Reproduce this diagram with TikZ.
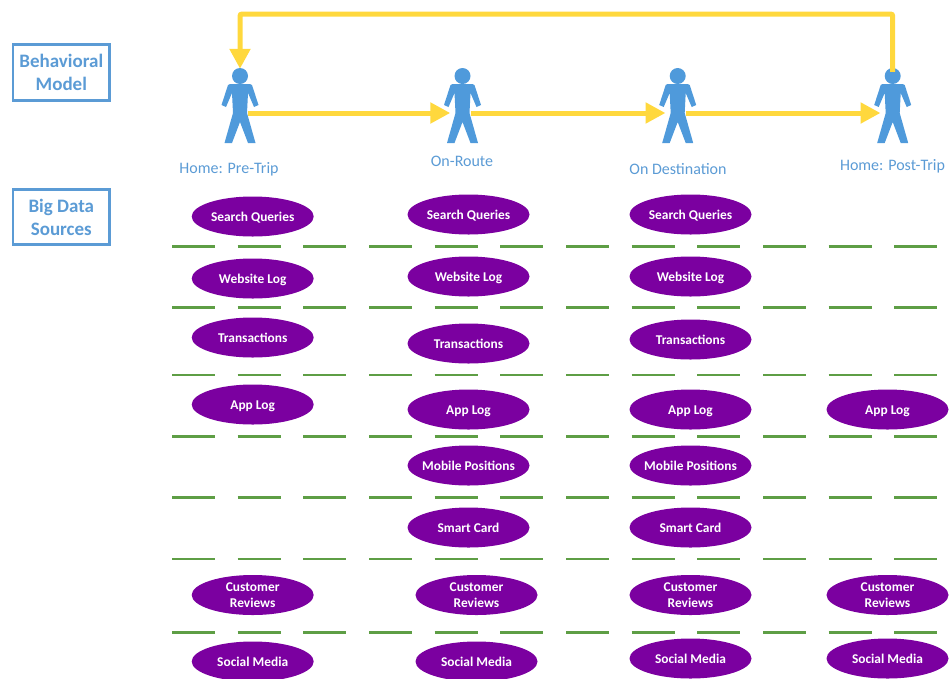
\documentclass[tikz,border=0pt]{standalone}
\usepackage{fontspec}
\setmainfont{Carlito}
\usetikzlibrary{shapes.geometric,arrows.meta}
\pgfdeclarelayer{bg}
\pgfsetlayers{bg,main}
\definecolor{boxblue}{HTML}{5B9BD5}
\definecolor{figblue}{HTML}{4F9ADB}
\definecolor{flowyellow}{HTML}{FFD83D}
\definecolor{srcpurple}{HTML}{7B00A0}
\definecolor{sepgreen}{HTML}{5E9E45}
\newcommand{\longsrc}[1]{\makebox[60pt]{#1}}
\tikzset{
	stagefig/.style={minimum width=24pt, minimum height=74pt, inner sep=0pt},
	stagelabel/.style={text=boxblue, font=\fontsize{16}{19}\selectfont, inner sep=0pt},
	headbox/.style={draw=boxblue, line width=2.7pt, text=boxblue, minimum width=96.5pt, minimum height=55.5pt,
		inner sep=0pt, align=center, font=\fontsize{19}{23}\selectfont\bfseries},
	src/.style={ellipse, fill=srcpurple, text=white, minimum width=122pt, minimum height=40pt, inner sep=0pt,
		align=center, font=\fontsize{13.4}{15.5}\selectfont\bfseries},
	srcone/.style={src, text height=11pt, text depth=2pt},
	flow/.style={draw=flowyellow, line width=5pt, rounded corners=2pt, -{Triangle[length=20pt,width=20pt]}},
	sep/.style={draw=sepgreen, line width=2.2pt, dash pattern=on 43pt off 22.67pt},
	stickman/.pic={
		\fill[figblue] (0,-30) circle (8);
		\fill[figblue] (-10,-22) -- (10,-22) -- (12,-21) -- (18.5,-1) -- (14,1) -- (8,-13) -- (7,7)
			-- (15.5,37) -- (8,37) -- (0,16) -- (-8,37) -- (-15.5,37) -- (-7,7) -- (-8,-13) -- (-14,1)
			-- (-18.5,-1) -- (-12,-21) -- cycle;
	}
}
\begin{document}
\begin{tikzpicture}[x=1pt, y=-1pt]
	\useasboundingbox (0,0) rectangle (950,678);
	\node (h0) [headbox] at (61.3, 72.5) {Behavioral\\Model};
	\node (h1) [headbox] at (61.3, 217) {Big Data\\Sources};
	\node (v0) [stagefig] at (240, 106) {};
	\node (v1) [stagefig] at (462.5, 106) {};
	\node (v2) [stagefig] at (677.7, 106) {};
	\node (v3) [stagefig] at (892.7, 106) {};
	\pic at (v0) {stickman};
	\pic at (v1) {stickman};
	\pic at (v2) {stickman};
	\pic at (v3) {stickman};
	\node (l0) [stagelabel] at (229, 169) {Home: Pre-Trip};
	\node (l1) [stagelabel] at (462, 161) {On-Route};
	\node (l2) [stagelabel] at (678, 169) {On Destination};
	\node (l3) [stagelabel] at (892.5, 166) {Home: Post-Trip};
	\node (a0) [srcone] at (252.7, 216.5) {Search Queries};
	\node (a1) [srcone] at (252.7, 278.5) {Website Log};
	\node (a2) [srcone] at (252.7, 337.5) {Transactions};
	\node (a3) [srcone] at (252.7, 404.5) {App Log};
	\node (a4) [src] at (252.7, 595) {Customer\\Reviews};
	\node (a5) [srcone] at (252.7, 661.5) {Social Media};
	\node (b0) [srcone] at (468.5, 214.5) {Search Queries};
	\node (b1) [srcone] at (468.5, 276.5) {Website Log};
	\node (b2) [srcone] at (468.5, 343.5) {Transactions};
	\node (b3) [srcone] at (468.5, 409.5) {App Log};
	\node (b4) [srcone] at (468.5, 465.5) {\longsrc{Mobile Positions}};
	\node (b5) [srcone] at (468.5, 527.5) {Smart Card};
	\node (b6) [src] at (476.5, 595) {Customer\\Reviews};
	\node (b7) [srcone] at (476.5, 661.5) {Social Media};
	\node (c0) [srcone] at (690.5, 214.5) {Search Queries};
	\node (c1) [srcone] at (690.5, 276.5) {Website Log};
	\node (c2) [srcone] at (690.5, 339.5) {Transactions};
	\node (c3) [srcone] at (690.5, 409.5) {App Log};
	\node (c4) [srcone] at (690.5, 465.5) {\longsrc{Mobile Positions}};
	\node (c5) [srcone] at (690.5, 527.5) {Smart Card};
	\node (c6) [src] at (690.5, 595) {Customer\\Reviews};
	\node (c7) [srcone] at (690.5, 658.5) {Social Media};
	\node (d0) [srcone] at (887.5, 409.5) {App Log};
	\node (d1) [src] at (887.5, 595) {Customer\\Reviews};
	\node (d2) [srcone] at (887.5, 658.5) {Social Media};
	\coordinate (looptop) at (240, 14);
	\foreach \y [count=\i] in {246.5, 307.5, 375, 436.5, 497.5, 559, 632.5} {
		\coordinate (s\i l) at (172, \y);
		\coordinate (s\i r) at (937, \y);
	}
	\begin{pgfonlayer}{bg}
		\draw (s1l) edge [sep] (s1r);
		\draw (s2l) edge [sep] (s2r);
		\draw (s3l) edge [sep] (s3r);
		\draw (s4l) edge [sep] (s4r);
		\draw (s5l) edge [sep] (s5r);
		\draw (s6l) edge [sep] (s6r);
		\draw (s7l) edge [sep] (s7r);
	\end{pgfonlayer}
	\draw [flow] ([xshift=-4pt, yshift=-7pt]v0.east) -- ([yshift=-7pt]v1.west);
	\draw [flow] ([xshift=-4pt, yshift=-7pt]v1.east) -- ([yshift=-7pt]v2.west);
	\draw [flow] ([xshift=-4pt, yshift=-7pt]v2.east) -- ([yshift=-7pt]v3.west);
	\draw [flow] ([yshift=-3pt]v3.north) |- (looptop) -- (v0.north);
\end{tikzpicture}
\end{document}
